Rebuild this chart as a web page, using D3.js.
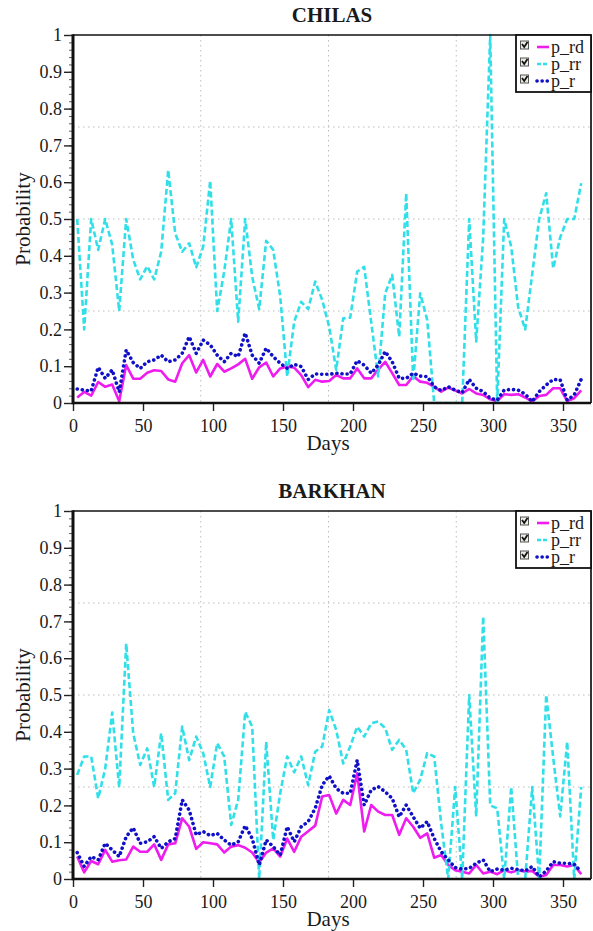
<!DOCTYPE html>
<html>
<head>
<meta charset="utf-8">
<script src="https://cdn.jsdelivr.net/npm/d3@7"></script>
<style>
  body { margin: 0; background: #fff; }
  text { font-family: "Liberation Serif", "Times New Roman", serif; fill: #1a1a1a; }
</style>
</head>
<body>
<div id="chart"></div>
<script>
const WIDTH = 593;
const HEIGHT = 931;

// pentad centres (day of year)
const days = [3, 8, 13, 18, 23, 28, 33, 38, 43, 48, 53, 58, 63, 68, 73, 78, 83, 88, 93, 98,
  103, 108, 113, 118, 123, 128, 133, 138, 143, 148, 153, 158, 163, 168, 173, 178, 183, 188, 193, 198,
  203, 208, 213, 218, 223, 228, 233, 238, 243, 248, 253, 258, 263, 268, 273, 278, 283, 288, 293, 298,
  303, 308, 313, 318, 323, 328, 333, 338, 343, 348, 353, 358, 363];

const xTicks = [0, 50, 100, 150, 200, 250, 300, 350];
const yTicks = [0, 0.1, 0.2, 0.3, 0.4, 0.5, 0.6, 0.7, 0.8, 0.9, 1];
const seriesNames = ["p_rd", "p_rr", "p_r"];
const stationNames = ["CHILAS", "BARKHAN"];

const chilasRd = [0.015, 0.03, 0.02, 0.057, 0.044, 0.05, 0.005, 0.103, 0.066, 0.066,
  0.082, 0.089, 0.087, 0.064, 0.058, 0.108, 0.13, 0.083, 0.117, 0.072,
  0.106, 0.085, 0.094, 0.105, 0.12, 0.066, 0.097, 0.11, 0.072, 0.094,
  0.099, 0.096, 0.076, 0.043, 0.063, 0.058, 0.06, 0.076, 0.067, 0.067,
  0.094, 0.067, 0.067, 0.091, 0.112, 0.081, 0.049, 0.049, 0.073, 0.058,
  0.055, 0.044, 0.031, 0.042, 0.034, 0.026, 0.038, 0.026, 0.022, 0.01,
  0.005, 0.024, 0.022, 0.024, 0.015, 0.004, 0.019, 0.022, 0.04, 0.04,
  0.005, 0.013, 0.034];
const chilasRr = [0.5, 0.2, 0.5, 0.416, 0.5, 0.43, 0.25, 0.5, 0.39, 0.336,
  0.372, 0.336, 0.411, 0.633, 0.461, 0.411, 0.434, 0.369, 0.425, 0.604,
  0.25, 0.357, 0.5, 0.221, 0.5, 0.343, 0.255, 0.441, 0.416, 0.29,
  0.072, 0.221, 0.275, 0.255, 0.33, 0.28, 0.207, 0.09, 0.23, 0.232,
  0.357, 0.37, 0.22, 0.072, 0.298, 0.348, 0.18, 0.57, 0.06, 0.298,
  0.226, 0, 0, 0, 0, 0, 0.5, 0.167, 0.45, 1.0,
  0, 0.5, 0.425, 0.26, 0.2, 0.35, 0.5, 0.57, 0.366, 0.45,
  0.5, 0.5, 0.597];
const chilasR = [0.038, 0.035, 0.033, 0.097, 0.067, 0.09, 0.03, 0.144, 0.11, 0.094,
  0.112, 0.117, 0.13, 0.112, 0.117, 0.135, 0.18, 0.135, 0.171, 0.158,
  0.13, 0.112, 0.135, 0.126, 0.19, 0.13, 0.108, 0.149, 0.126, 0.108,
  0.094, 0.105, 0.099, 0.064, 0.079, 0.078, 0.078, 0.081, 0.079, 0.079,
  0.115, 0.103, 0.081, 0.103, 0.14, 0.112, 0.067, 0.067, 0.081, 0.073,
  0.072, 0.044, 0.034, 0.044, 0.035, 0.028, 0.064, 0.04, 0.031, 0.013,
  0.008, 0.035, 0.037, 0.035, 0.024, 0.004, 0.031, 0.049, 0.064, 0.063,
  0.008, 0.022, 0.064];

const barkhanRd = [0.061, 0.018, 0.049, 0.04, 0.079, 0.047, 0.051, 0.053, 0.088, 0.074,
  0.074, 0.094, 0.052, 0.094, 0.097, 0.165, 0.142, 0.082, 0.1, 0.097,
  0.094, 0.072, 0.088, 0.092, 0.085, 0.072, 0.045, 0.072, 0.083, 0.061,
  0.11, 0.074, 0.115, 0.13, 0.145, 0.224, 0.228, 0.178, 0.215, 0.201,
  0.287, 0.129, 0.201, 0.183, 0.174, 0.174, 0.12, 0.165, 0.142, 0.112,
  0.124, 0.058, 0.065, 0.038, 0.024, 0.02, 0.015, 0.038, 0.015, 0.02,
  0.013, 0.024, 0.018, 0.024, 0.02, 0.022, 0.006, 0.011, 0.038, 0.038,
  0.034, 0.038, 0.013];
const barkhanRr = [0.283, 0.333, 0.333, 0.219, 0.3, 0.452, 0.249, 0.64, 0.396, 0.31,
  0.355, 0.25, 0.396, 0.215, 0.233, 0.414, 0.323, 0.387, 0.342, 0.25,
  0.369, 0.333, 0.147, 0.215, 0.454, 0.414, 0, 0.373, 0.106, 0.233,
  0.333, 0.29, 0.333, 0.255, 0.346, 0.36, 0.459, 0.405, 0.314, 0.36,
  0.414, 0.387, 0.423, 0.428, 0.41, 0.351, 0.378, 0.351, 0.233, 0.27,
  0.342, 0.333, 0.15, 0, 0.25, 0, 0.5, 0.17, 0.713, 0.2,
  0.192, 0, 0.25, 0, 0, 0.25, 0, 0.5, 0.33, 0.17,
  0.373, 0, 0.25];
const barkhanR = [0.072, 0.034, 0.061, 0.052, 0.097, 0.079, 0.061, 0.115, 0.139, 0.097,
  0.101, 0.115, 0.083, 0.101, 0.11, 0.215, 0.187, 0.12, 0.129, 0.118,
  0.124, 0.106, 0.092, 0.101, 0.145, 0.11, 0.038, 0.106, 0.088, 0.065,
  0.142, 0.101, 0.142, 0.156, 0.192, 0.255, 0.28, 0.246, 0.233, 0.233,
  0.323, 0.201, 0.242, 0.251, 0.237, 0.219, 0.169, 0.201, 0.169, 0.138,
  0.156, 0.11, 0.074, 0.052, 0.031, 0.027, 0.029, 0.043, 0.052, 0.02,
  0.027, 0.024, 0.029, 0.026, 0.022, 0.034, 0.006, 0.022, 0.047, 0.043,
  0.043, 0.04, 0.02];

// line looks, in legend order
const looks = [
  { color: "#ee1cee", width: 2.6, dash: null, cap: "butt" },
  { color: "#30dfe8", width: 2.6, dash: "6,3", cap: "butt" },
  { color: "#1010c8", width: 3.6, dash: "0.1,5", cap: "round" }
];

const margin = { left: 73, right: 2 };
const plotH = 368;

const svg = d3.select("#chart").append("svg")
  .attr("width", WIDTH)
  .attr("height", HEIGHT);

svg.append("rect").attr("width", WIDTH).attr("height", HEIGHT).attr("fill", "#fff");

const x = d3.scaleLinear().domain([0, 370]).range([margin.left, WIDTH - margin.right]);

function drawPanel(idx, top, series) {
  const y = d3.scaleLinear().domain([0, 1]).range([top + plotH, top]);
  const g = svg.append("g");
  const x0 = x.range()[0], x1 = x.range()[1];

  // dotted quarter grid
  const grid = g.append("g").attr("stroke", "#bdbdbd").attr("stroke-width", 1)
    .attr("stroke-dasharray", "1.5,3.5");
  [91.25, 182.5, 273.75].forEach(d => {
    grid.append("line").attr("x1", x(d)).attr("x2", x(d)).attr("y1", top).attr("y2", top + plotH);
  });
  [0.25, 0.5, 0.75].forEach(v => {
    grid.append("line").attr("x1", x0).attr("x2", x1).attr("y1", y(v)).attr("y2", y(v));
  });

  // lines
  const clipId = "clip" + idx;
  svg.append("clipPath").attr("id", clipId).append("rect")
    .attr("x", x0).attr("y", top - 2).attr("width", x1 - x0).attr("height", plotH + 3);

  const line = d3.line().x(d => x(d[0])).y(d => y(d[1]));
  series.forEach((vals, i) => {
    const lk = looks[i];
    g.append("path")
      .datum(days.map((d, j) => [d, vals[j]]))
      .attr("clip-path", `url(#${clipId})`)
      .attr("fill", "none")
      .attr("stroke", lk.color)
      .attr("stroke-width", lk.width)
      .attr("stroke-dasharray", lk.dash)
      .attr("stroke-linecap", lk.cap)
      .attr("stroke-linejoin", "round")
      .attr("d", line);
  });

  // axes
  const yAxis = g.append("g").attr("transform", `translate(${x0},0)`)
    .call(d3.axisLeft(y).tickValues(yTicks).tickSize(9).tickPadding(2).tickFormat(d3.format("~g")));
  yAxis.select(".domain").remove();
  yAxis.selectAll("line").attr("stroke", "#222").attr("stroke-width", 1.4);
  yAxis.selectAll("text").attr("font-size", 18).attr("font-family", "Liberation Serif").attr("fill", "#1a1a1a");

  const yMinor = g.append("g").attr("transform", `translate(${x0},0)`)
    .call(d3.axisLeft(y).tickValues(d3.range(0, 1.001, 0.02)).tickSize(4).tickFormat(""));
  yMinor.select(".domain").remove();
  yMinor.selectAll("line").attr("stroke", "#333").attr("stroke-width", 0.8);

  const xAxis = g.append("g").attr("transform", `translate(0,${top + plotH})`)
    .call(d3.axisBottom(x).tickValues(xTicks).tickSize(8).tickPadding(8));
  xAxis.select(".domain").remove();
  xAxis.selectAll("line").attr("stroke", "#222").attr("stroke-width", 1.4);
  xAxis.selectAll("text").attr("font-size", 18).attr("font-family", "Liberation Serif").attr("fill", "#1a1a1a");

  // frame: heavy left/bottom, lighter top/right
  g.append("line").attr("x1", x0).attr("x2", x1).attr("y1", top).attr("y2", top)
    .attr("stroke", "#111").attr("stroke-width", 1.7);
  g.append("line").attr("x1", x1).attr("x2", x1).attr("y1", top).attr("y2", top + plotH)
    .attr("stroke", "#111").attr("stroke-width", 1.7);
  g.append("line").attr("x1", x0).attr("x2", x1).attr("y1", top + plotH).attr("y2", top + plotH)
    .attr("stroke", "#111").attr("stroke-width", 2.7);
  g.append("line").attr("x1", x0).attr("x2", x0).attr("y1", top - 0.8).attr("y2", top + plotH + 1.3)
    .attr("stroke", "#111").attr("stroke-width", 3);

  // titles
  const cx = (x0 + x1) / 2;
  g.append("text").attr("x", cx).attr("y", top - 13).attr("text-anchor", "middle")
    .attr("font-size", 21).attr("font-weight", "bold").text(stationNames[idx]);
  g.append("text").attr("x", cx - 4).attr("y", top + plotH + 47).attr("text-anchor", "middle")
    .attr("font-size", 21).text("Days");
  g.append("text").attr("transform", `translate(30,${top + plotH / 2}) rotate(-90)`)
    .attr("text-anchor", "middle").attr("font-size", 21).text("Probability");

  // legend
  const lg = g.append("g").attr("transform", `translate(516,${top})`);
  lg.append("rect").attr("x", 0).attr("y", 0).attr("width", x1 - 516).attr("height", 57)
    .attr("fill", "#fff").attr("stroke", "#111").attr("stroke-width", 1.8);
  seriesNames.forEach((name, i) => {
    const by = 18 + i * 17;
    const lk = looks[i];
    lg.append("rect").attr("x", 4.5).attr("y", by - 12).attr("width", 8).attr("height", 8)
      .attr("fill", "#ecece4").attr("stroke", "#555").attr("stroke-width", 1);
    lg.append("path").attr("d", `M6,${by - 9} L8.2,${by - 6} L11.5,${by - 11}`)
      .attr("fill", "none").attr("stroke", "#111").attr("stroke-width", 1.8);
    lg.append("line").attr("x1", 21).attr("x2", 33).attr("y1", by - 6).attr("y2", by - 6)
      .attr("stroke", lk.color).attr("stroke-width", lk.width)
      .attr("stroke-dasharray", i === 1 ? "4,2" : lk.dash).attr("stroke-linecap", lk.cap);
    lg.append("text").attr("x", 35).attr("y", by).attr("font-size", 18).text(name);
  });
}

drawPanel(0, 35, [chilasRd, chilasRr, chilasR]);
drawPanel(1, 511, [barkhanRd, barkhanRr, barkhanR]);
</script>
</body>
</html>
